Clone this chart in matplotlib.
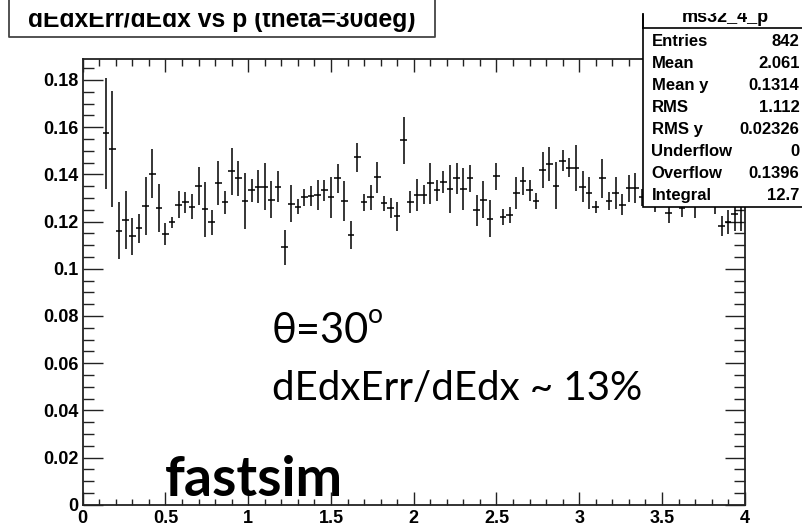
import numpy as np
import matplotlib
matplotlib.use("Agg")
import matplotlib.pyplot as plt
from matplotlib.ticker import MultipleLocator, FuncFormatter
from matplotlib.patches import Rectangle

# profile histogram: 100 bins on [0, 4], first three empty
bin_lo = np.arange(3, 100)
p_center = 0.02 + 0.04 * bin_lo
ratio = [
    0.1574, 0.1508, 0.1161, 0.1207, 0.1137, 0.1171, 0.1267, 0.1403, 0.1257, 0.1147,
    0.1197, 0.1272, 0.1281, 0.1263, 0.1352, 0.1252, 0.1197, 0.1362, 0.1281, 0.1413,
    0.1383, 0.1287, 0.1332, 0.1348, 0.1348, 0.1293, 0.1348, 0.1091, 0.1276, 0.1263,
    0.1303, 0.1308, 0.1313, 0.1332, 0.1303, 0.1383, 0.1287, 0.1142, 0.1472, 0.1281,
    0.1303, 0.1387, 0.1277, 0.1257, 0.1222, 0.1544, 0.1283, 0.1313, 0.1313, 0.1362,
    0.1332, 0.1368, 0.1338, 0.1383, 0.1338, 0.1383, 0.1248, 0.1293, 0.1212, 0.1392,
    0.1218, 0.1228, 0.1322, 0.1373, 0.1332, 0.1287, 0.1418, 0.1443, 0.1352, 0.1458,
    0.1428, 0.1428, 0.1348, 0.1322, 0.1263, 0.1383, 0.1287, 0.1322, 0.1272, 0.1342,
    0.1342, 0.1303, 0.1340, 0.1300, 0.1340, 0.1235, 0.1350, 0.1256, 0.1380, 0.1310,
    0.1360, 0.1330, 0.1290, 0.1180, 0.1197, 0.1230, 0.1280,
]
ratio_err = [
    0.0235, 0.0247, 0.0121, 0.0122, 0.0079, 0.0062, 0.0124, 0.0105, 0.0102, 0.0047,
    0.0023, 0.0057, 0.0044, 0.0052, 0.0081, 0.0116, 0.0052, 0.0093, 0.0049, 0.0100,
    0.0073, 0.0119, 0.0047, 0.0070, 0.0100, 0.0078, 0.0065, 0.0073, 0.0078, 0.0033,
    0.0036, 0.0042, 0.0065, 0.0045, 0.0087, 0.0062, 0.0083, 0.0060, 0.0063, 0.0037,
    0.0052, 0.0067, 0.0032, 0.0042, 0.0062, 0.0100, 0.0045, 0.0069, 0.0040, 0.0087,
    0.0045, 0.0047, 0.0102, 0.0065, 0.0089, 0.0057, 0.0065, 0.0080, 0.0078, 0.0057,
    0.0034, 0.0033, 0.0067, 0.0060, 0.0045, 0.0035, 0.0076, 0.0073, 0.0100, 0.0045,
    0.0040, 0.0097, 0.0066, 0.0067, 0.0026, 0.0083, 0.0040, 0.0067, 0.0043, 0.0057,
    0.0065, 0.0035, 0.0050, 0.0058, 0.0050, 0.0043, 0.0060, 0.0036, 0.0070, 0.0096,
    0.0060, 0.0050, 0.0060, 0.0042, 0.0050, 0.0070, 0.0120,
]

stat_names = ["Entries", "Mean", "Mean y", "RMS", "RMS y", "Underflow", "Overflow", "Integral"]
stat_values = ["842", "2.061", "0.1314", "1.112", "0.02326", "0", "0.1396", "12.7"]

W, H = 802, 526


def fx(x):
    return x / W


def fy(y):
    return 1 - y / H


fig = plt.figure(figsize=(W / 100, H / 100), dpi=100)
L, R, T, B = 82.7, 744.7, 59, 504.7
ax = fig.add_axes([fx(L), fy(B), (R - L) / W, (B - T) / H])

ax.errorbar(p_center, ratio, xerr=0.02, yerr=ratio_err, fmt='none',
            ecolor='black', elinewidth=1.1, capsize=0)

ax.set_xlim(0, 4)
ax.set_ylim(0, 0.1889)
ax.xaxis.set_major_locator(MultipleLocator(0.5))
ax.xaxis.set_minor_locator(MultipleLocator(0.1))
ax.yaxis.set_major_locator(MultipleLocator(0.02))
ax.yaxis.set_minor_locator(MultipleLocator(0.005))
fmt = FuncFormatter(lambda v, pos: "%g" % round(v, 4))
ax.xaxis.set_major_formatter(fmt)
ax.yaxis.set_major_formatter(fmt)

ax.tick_params(which='both', direction='in', top=True, right=True, width=1.0, color='#222222')
ax.xaxis.set_tick_params(which='major', length=13 * 0.72, pad=4)
ax.xaxis.set_tick_params(which='minor', length=6.5 * 0.72)
ax.yaxis.set_tick_params(which='major', length=20 * 0.72, pad=3)
ax.yaxis.set_tick_params(which='minor', length=11 * 0.72)
for lab in ax.get_xticklabels() + ax.get_yticklabels():
    lab.set_fontfamily('Liberation Sans')
    lab.set_fontweight('bold')
    lab.set_fontsize(13)
for s in ax.spines.values():
    s.set_linewidth(1.3)
    s.set_color('#222222')

# title box (top cut off in the reference)
fig.text(fx(28), fy(27), "dEdxErr/dEdx vs p (theta=30deg)", fontsize=17.8,
         fontfamily='Liberation Sans', fontweight='bold', ha='left', va='baseline')

# stats box
fig.patches.append(Rectangle((fx(643), fy(207)), fx(802 - 643 + 5), (207 + 5) / H,
                             transform=fig.transFigure, facecolor='white',
                             edgecolor='black', linewidth=1.2, zorder=5))
fig.lines.append(plt.Line2D([fx(643), fx(802)], [fy(28), fy(28)],
                            transform=fig.transFigure, color='black', lw=1.2, zorder=6))
fig.text(fx(725), fy(22.5), "ms32_4_p", fontsize=13, fontfamily='Liberation Sans',
         fontweight='bold', ha='center', va='baseline', zorder=7)
for i, (nm, val) in enumerate(zip(stat_names, stat_values)):
    yb = 45.7 + 22.1 * i
    fig.text(fx(651.5), fy(yb), nm, fontsize=12, fontfamily='Liberation Sans',
             fontweight='bold', ha='left', va='baseline', zorder=7)
    fig.text(fx(799.5), fy(yb), val, fontsize=12, fontfamily='Liberation Sans',
             fontweight='bold', ha='right', va='baseline', zorder=7)

# white strip covering the top of the titles
fig.patches.append(Rectangle((0, fy(13)), 1, 13 / H, transform=fig.transFigure,
                             facecolor='white', edgecolor='none', zorder=8))
fig.lines.append(plt.Line2D([fx(9), fx(9), fx(435), fx(435)],
                            [fy(0), fy(36.7), fy(36.7), fy(0)],
                            transform=fig.transFigure, color='#444444', lw=1.3, zorder=9))
fig.lines.append(plt.Line2D([fx(643), fx(643)], [fy(15), fy(28)],
                            transform=fig.transFigure, color='black', lw=1.2, zorder=9))

# slide annotations
fig.text(fx(272), fy(343), "\u03b8=30", fontsize=30, family=['Lato', 'DejaVu Sans'],
         ha='left', va='baseline')
fig.text(fx(368), fy(323), "o", fontsize=19, family=['Lato', 'DejaVu Sans'],
         ha='left', va='baseline')
fig.text(fx(272), fy(400), "dEdxErr/dEdx ~ 13%", fontsize=29, family=['Lato', 'DejaVu Sans'],
         ha='left', va='baseline')
fig.text(fx(165), fy(496), "fastsim", fontsize=40, family=['Lato', 'DejaVu Sans'],
         fontweight='bold', ha='left', va='baseline')

fig.savefig("out.png", dpi=100)
